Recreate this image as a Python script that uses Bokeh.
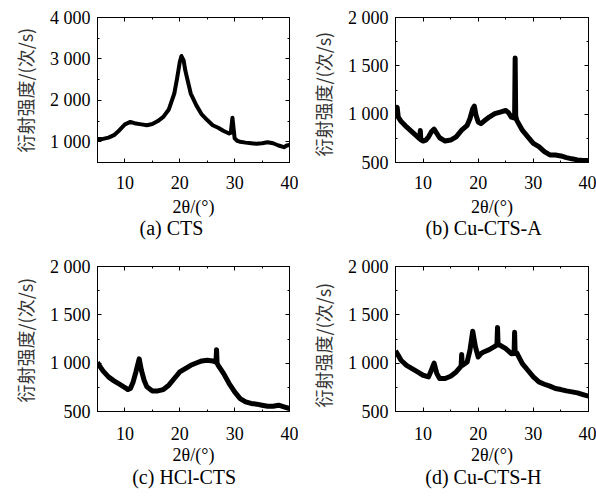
from bokeh.plotting import figure
from bokeh.models import Range1d, FixedTicker, LinearAxis, Title
from bokeh.layouts import gridplot
from bokeh.embed import file_html
from bokeh.resources import INLINE

# ---------------- data ----------------
x_a = [5, 6, 7, 8, 9, 10, 11, 12, 13, 14, 15, 16, 17, 18, 19, 19.5, 20, 20.3, 20.7,
       21, 21.5, 22, 23, 24, 25, 26, 27, 28, 29, 29.3, 29.6, 30, 30.5, 31, 32, 33, 34,
       35, 36, 37, 38, 39, 39.5, 40]
y_a = [1070, 1070, 1100, 1160, 1280, 1420, 1480, 1440, 1420, 1400, 1430, 1500, 1600,
       1780, 2165, 2525, 2925, 3070, 2965, 2725, 2445, 2165, 1885, 1660, 1525, 1400,
       1340, 1260, 1200, 1220, 1580, 1085, 1020, 1000, 980, 965, 950, 965, 990, 965,
       910, 870, 910, 925]

x_b = [5, 5.3, 5.5, 6, 7, 8, 9, 9.4, 9.5, 9.6, 10, 10.5, 11, 11.5, 12, 12.5, 13, 14,
       15, 16, 17, 18, 18.5, 19, 19.3, 19.6, 20, 20.5, 21, 22, 23, 24, 25, 25.5, 26,
       26.6, 26.7, 26.8, 27, 28, 29, 30, 31, 32, 33, 34, 35, 36, 37, 38, 39, 40]
y_b = [1000, 1070, 970, 926, 868, 817, 766, 745, 830, 735, 722, 732, 766, 817, 845,
       800, 756, 722, 732, 766, 834, 885, 953, 1056, 1083, 988, 919, 902, 926, 970,
       1005, 1022, 1039, 1015, 970, 960, 1580, 980, 936, 834, 766, 698, 664, 612, 578,
       578, 568, 551, 538, 527, 520, 520]

x_c = [5, 5.5, 6, 7, 8, 9, 10, 10.5, 11, 11.5, 12, 12.6, 13, 13.5, 14, 15, 16, 17, 18,
       19, 20, 21, 22, 23, 24, 25, 26, 26.6, 26.7, 26.8, 27, 28, 29, 30, 31, 32, 33,
       34, 35, 36, 37, 38, 39, 40]
y_c = [1010, 961, 920, 858, 817, 782, 748, 727, 738, 806, 909, 1045, 927, 823, 755,
       713, 713, 727, 772, 841, 909, 944, 978, 1002, 1023, 1030, 1023, 1010, 1140,
       1000, 978, 892, 789, 703, 634, 600, 583, 576, 565, 555, 555, 565, 548, 531]

x_d = [5, 5.5, 6, 7, 8, 9, 10, 11, 11.5, 12, 12.5, 13, 14, 15, 16, 16.9, 17, 17.1, 18,
       18.5, 19, 19.5, 20, 20.5, 21, 22, 23, 23.4, 23.5, 23.6, 24, 25, 26, 26.5, 26.6,
       26.7, 27, 28, 29, 30, 31, 32, 33, 34, 35, 36, 37, 38, 39, 40]
y_d = [1127, 1081, 1030, 978, 944, 909, 875, 858, 927, 1000, 892, 841, 841, 865, 909,
       970, 1090, 975, 1013, 1133, 1330, 1168, 1064, 1098, 1116, 1140, 1174, 1190,
       1370, 1190, 1185, 1150, 1098, 1100, 1320, 1100, 1105, 996, 927, 858, 806, 782,
       762, 738, 727, 713, 703, 693, 675, 658]

x_ticks = [10, 20, 30, 40]
x_minor = [5, 10, 15, 20, 25, 30, 35, 40]
x_range = (5, 40)

y_range_a = (500, 4000)
y_ticks_a = [1000, 2000, 3000, 4000]
y_minor_a = [500, 1000, 1500, 2000, 2500, 3000, 3500, 4000]
y_labels_a = {1000: "1 000", 2000: "2 000", 3000: "3 000", 4000: "4 000"}

y_range_b = (500, 2000)
y_ticks_b = [500, 1000, 1500, 2000]
y_minor_b = [500, 750, 1000, 1250, 1500, 1750, 2000]
y_labels_b = {500: "500", 1000: "1 000", 1500: "1 500", 2000: "2 000"}

subtitles = ["(a) CTS", "(b) Cu-CTS-A", "(c) HCl-CTS", "(d) Cu-CTS-H"]
y_title = "衍射强度/(次/s)"
x_title = "2θ/(°)"

SERIF = "Liberation Serif"
CJK = "Noto Sans CJK SC"


def style_axis(ax, ticks, minor, labels=None, show=True, standoff=8):
    ax.ticker = FixedTicker(ticks=ticks, minor_ticks=minor)
    ax.major_tick_in = 4
    ax.major_tick_out = 0
    ax.minor_tick_in = 2
    ax.minor_tick_out = 0
    ax.axis_line_color = "black"
    ax.major_tick_line_color = "black"
    ax.minor_tick_line_color = "black"
    if show:
        ax.major_label_text_font = SERIF
        ax.major_label_text_font_size = "18px"
        ax.major_label_text_color = "black"
        ax.major_label_standoff = standoff
        if labels:
            ax.major_label_overrides = labels
    else:
        ax.major_label_text_color = None
        ax.major_label_text_font_size = "1px"
        ax.major_label_standoff = 0


def panel(xs, ys, yr, yticks, yminor, ylabels, w, h, mbl, mbr, mbt, mbb,
          tick_so, xlab_so, sub_so, yt_offset, sub_left, subtitle, lw):
    p = figure(width=w, height=h, x_range=Range1d(*x_range), y_range=Range1d(*yr),
               output_backend="svg", toolbar_location=None,
               x_axis_type=None, y_axis_type=None,
               min_border_left=mbl, min_border_right=mbr,
               min_border_top=mbt, min_border_bottom=mbb)
    p.background_fill_color = "white"
    p.border_fill_color = "white"
    p.outline_line_color = "black"
    p.outline_line_width = 1

    bottom = LinearAxis(axis_label=x_title)
    style_axis(bottom, x_ticks, x_minor, show=True, standoff=tick_so)
    bottom.axis_label_text_font = SERIF
    bottom.axis_label_text_font_size = "18px"
    bottom.axis_label_text_font_style = "normal"
    bottom.axis_label_text_color = "black"
    bottom.axis_label_standoff = xlab_so
    p.add_layout(bottom, "below")
    top = LinearAxis()
    style_axis(top, x_ticks, x_minor, show=False)
    p.add_layout(top, "above")
    left = LinearAxis()
    style_axis(left, yticks, yminor, labels=ylabels, show=True, standoff=7)
    p.add_layout(left, "left")
    right = LinearAxis()
    style_axis(right, yticks, yminor, show=False)
    p.add_layout(right, "right")

    p.line(xs, ys, line_color="black", line_width=lw, line_join="round")

    p.add_layout(Title(text=y_title, align="left", offset=yt_offset, standoff=18,
                       text_font=CJK, text_font_size="18px", text_font_style="normal",
                       text_color="#333333"), "left")
    p.add_layout(Title(text=subtitle, align="left", offset=sub_left, standoff=sub_so,
                       text_font=SERIF, text_font_size="20px", text_font_style="normal",
                       text_color="black"), "below")
    return p


pa = panel(x_a, y_a, y_range_a, y_ticks_a, y_minor_a, y_labels_a,
           298, 250, 95, 9, 17, 88, 13, 5, -9, 10, 42, subtitles[0], 4)
pb = panel(x_b, y_b, y_range_b, y_ticks_b, y_minor_b, y_labels_b,
           298, 250, 95, 8, 16, 87, 13, 5, -9, 6, 30, subtitles[1], 5)
pc = panel(x_c, y_c, y_range_b, y_ticks_b, y_minor_b, y_labels_b,
           298, 251, 95, 9, 16, 90, 15, 2, -7, 9, 34.7, subtitles[2], 5)
pd_ = panel(x_d, y_d, y_range_b, y_ticks_b, y_minor_b, y_labels_b,
            298, 251, 95, 8, 16, 90, 15, 2, -7, 4, 29.8, subtitles[3], 5)

grid = gridplot([[pa, pb], [pc, pd_]], toolbar_location=None)

open("out.html", "w").write(file_html(grid, INLINE))
